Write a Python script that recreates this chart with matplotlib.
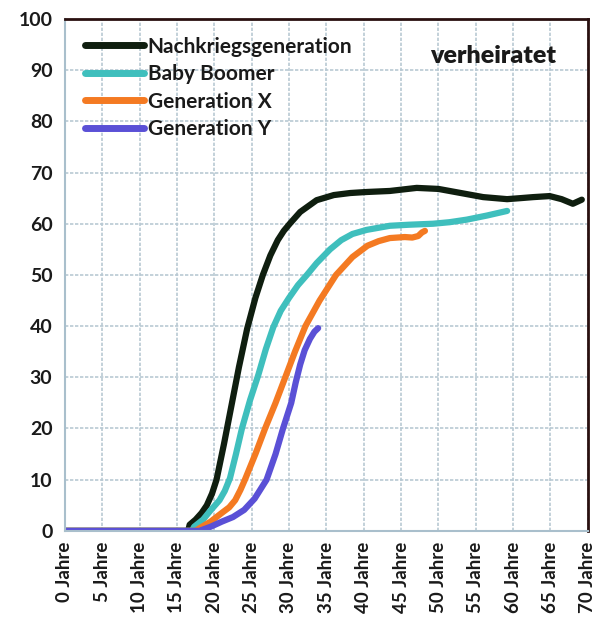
import matplotlib
matplotlib.use("Agg")
import matplotlib.pyplot as plt

plt.rcParams['font.family'] = ['Lato', 'DejaVu Sans']

# Data (age in years, percent married)
nk_x = [0, 16.5, 16.7, 17.5, 18.3, 19.0, 19.7, 20.3, 21.3, 22.3, 23.3, 24.4, 25.5, 26.5, 27.5, 28.5, 29.3, 30.1, 31.5, 33.7, 36.0, 38.2, 40.4, 43.5, 47.1, 50.0, 53.0, 56.0, 59.2, 61.0, 62.7, 64.9, 66.5, 68.0, 69.2]
nk_y = [0, 0, 1.2, 2.2, 3.5, 5.0, 7.3, 10.0, 17.0, 24.5, 32.0, 39.5, 45.5, 50.0, 53.8, 56.8, 58.6, 60.0, 62.3, 64.6, 65.6, 66.0, 66.2, 66.4, 67.0, 66.8, 66.0, 65.2, 64.8, 65.0, 65.2, 65.4, 64.8, 63.9, 64.7]

bb_x = [0, 17.0, 17.3, 18.5, 19.5, 20.7, 21.4, 22.1, 22.9, 23.7, 24.8, 25.9, 26.9, 27.9, 28.9, 30.0, 31.2, 32.4, 33.7, 35.5, 37.0, 38.5, 40.4, 43.5, 46.0, 49.3, 51.5, 53.8, 56.5, 59.2]
bb_y = [0, 0, 0.8, 2.2, 4.0, 6.0, 7.8, 10.3, 15.0, 20.0, 25.6, 30.5, 35.5, 39.8, 43.0, 45.5, 48.0, 50.0, 52.3, 55.0, 56.8, 58.0, 58.8, 59.6, 59.8, 60.0, 60.3, 60.8, 61.6, 62.5]

gx_x = [0, 17.5, 18.0, 19.5, 21.0, 22.0, 22.8, 23.5, 24.1, 25.5, 26.8, 28.2, 29.5, 30.8, 32.2, 34.1, 36.3, 38.5, 40.5, 42.0, 43.5, 45.5, 46.5, 47.3, 47.8, 48.2]
gx_y = [0, 0, 0.5, 1.8, 3.5, 4.6, 6.0, 8.0, 10.0, 15.0, 20.0, 25.0, 30.0, 35.0, 40.0, 45.0, 50.0, 53.5, 55.7, 56.6, 57.2, 57.4, 57.3, 57.6, 58.3, 58.6]

gy_x = [0, 18.0, 19.5, 21.0, 22.5, 24.0, 25.4, 27.0, 28.2, 29.2, 30.3, 30.9, 31.5, 32.1, 32.8, 33.4, 33.9]
gy_y = [0, 0, 0.8, 1.8, 2.7, 4.1, 6.3, 10.0, 15.0, 20.0, 25.0, 29.0, 32.5, 35.3, 37.5, 38.9, 39.6]

series_names = ["Nachkriegsgeneration", "Baby Boomer", "Generation X", "Generation Y"]
colors = ["#0f1e0f", "#3fbfbd", "#f47a22", "#5a50d6"]

x_ticks = list(range(0, 75, 5))
x_labels = [f"{v} Jahre" for v in x_ticks]
y_ticks = list(range(0, 110, 10))

fig = plt.figure(figsize=(6.01, 6.32), dpi=100)
ax = fig.add_axes([0.108, 0.160, 0.870, 0.810])

grid_col = "#b9c9d3"
ax.set_xlim(0, 70)
ax.set_ylim(0, 100)
ax.set_xticks(x_ticks)
ax.set_yticks(y_ticks)
ax.grid(True, color=grid_col, linestyle=(0, (2, 1)), linewidth=1.2)
ax.set_axisbelow(True)

data = [(nk_x, nk_y), (bb_x, bb_y), (gx_x, gx_y), (gy_x, gy_y)]
for (xs, ys), name, c in zip(data, series_names, colors):
    ax.plot(xs, ys, color=c, linewidth=4.5, solid_capstyle='round',
            solid_joinstyle='round', label=name)

ax.set_xticklabels(x_labels, rotation=90, fontsize=13.5, fontweight='bold', color='#1a1a1a')
ax.set_yticklabels([str(v) for v in y_ticks], fontsize=14, fontweight='bold', color='#1a1a1a')
ax.tick_params(axis='x', length=0, pad=8)
ax.tick_params(axis='y', length=0, pad=9)

ax.spines['left'].set_color("#a9bfcc")
ax.spines['bottom'].set_color("#a9bfcc")
ax.spines['left'].set_linewidth(1.5)
ax.spines['bottom'].set_linewidth(1.5)
ax.spines['top'].set_color("#2a1010")
ax.spines['right'].set_color("#2a1010")
ax.spines['top'].set_linewidth(2)
ax.spines['right'].set_linewidth(2)

leg = ax.legend(loc='upper left', bbox_to_anchor=(0.015, 0.99), frameon=False,
                handlelength=2.8, handletextpad=0.2, labelspacing=0.36,
                borderaxespad=0.2,
                prop={'size': 15, 'weight': 'bold'})
for t in leg.get_texts():
    t.set_color('#1a1a1a')
for h in leg.get_lines():
    h.set_linewidth(5)

ax.text(0.94, 0.928, "verheiratet", transform=ax.transAxes, ha='right', va='center',
        fontsize=18, fontweight='heavy', color='#1a1a1a')

fig.savefig("out.png", dpi=100, facecolor='white')
